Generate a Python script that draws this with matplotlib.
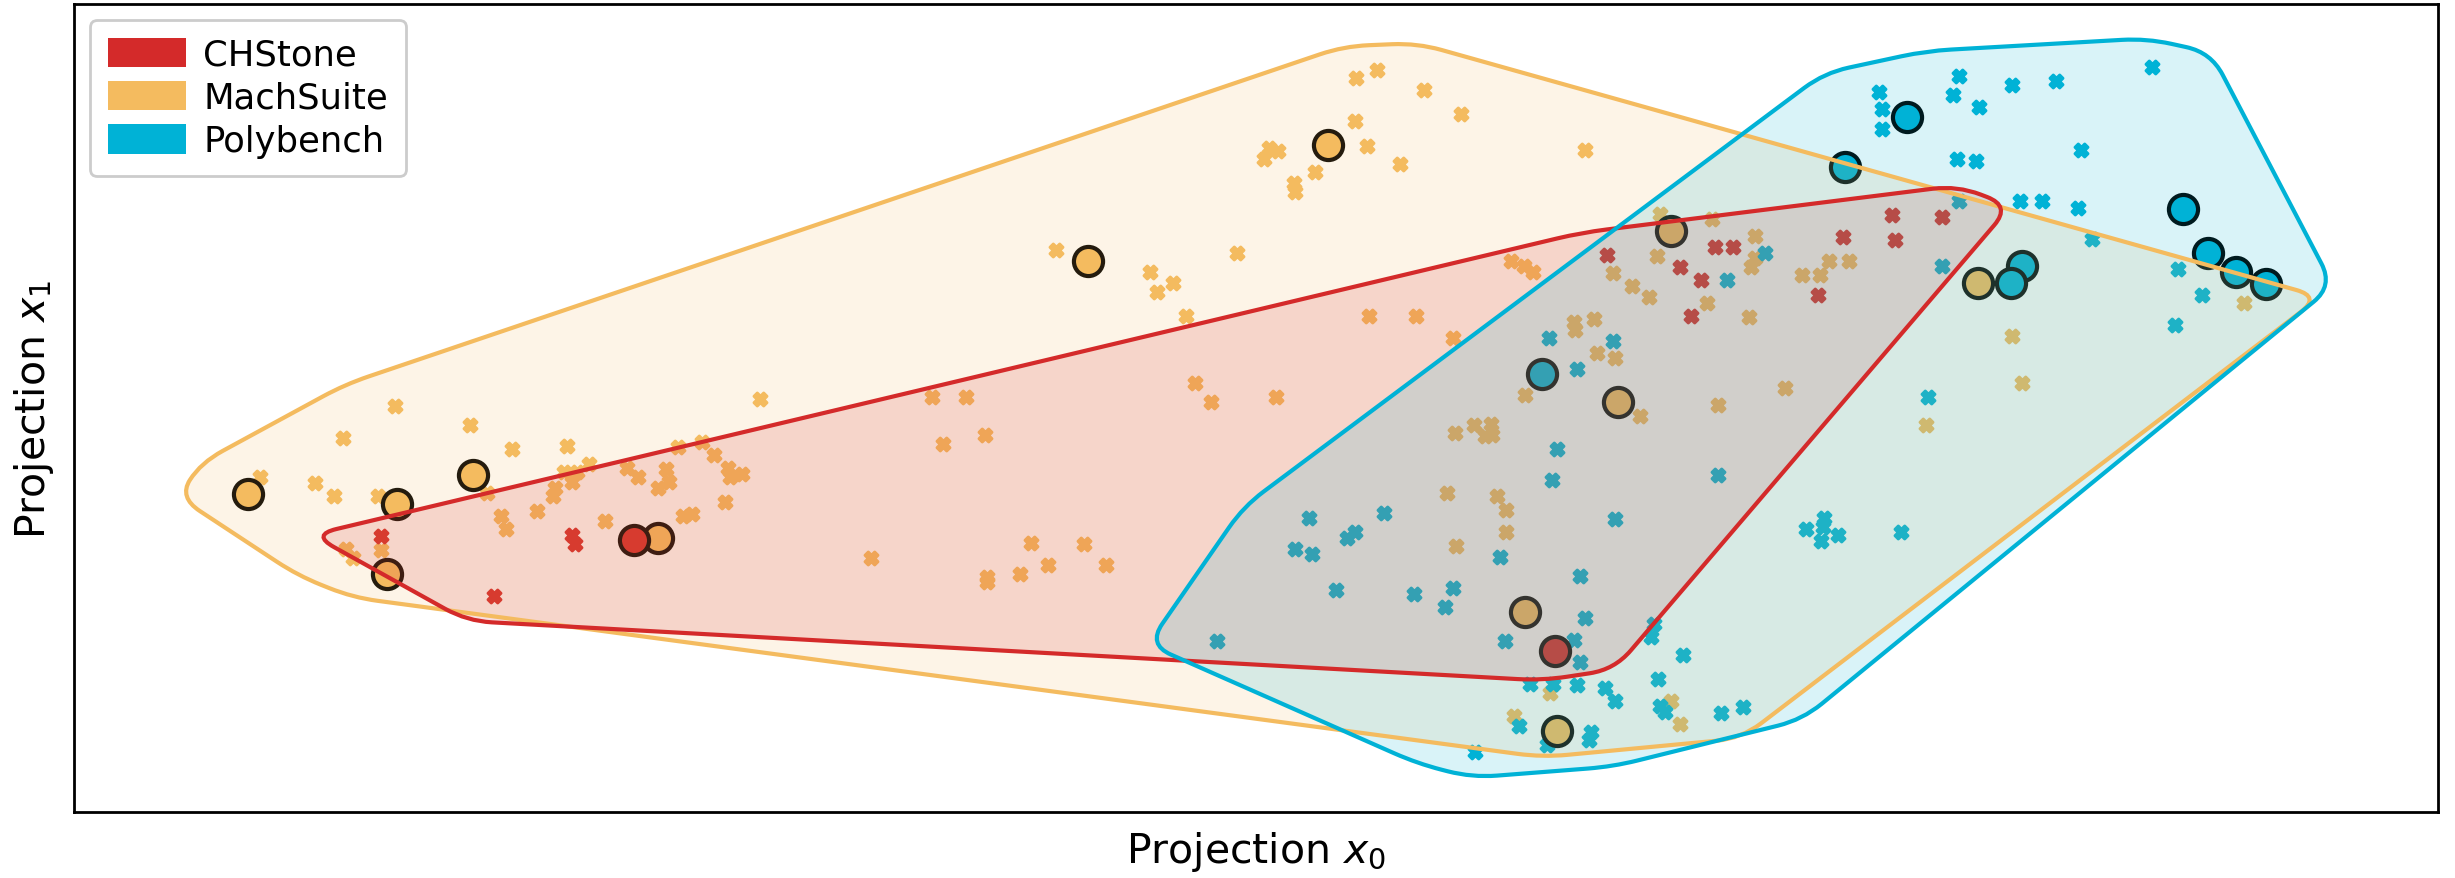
import numpy as np
import matplotlib
matplotlib.use("Agg")
import matplotlib.pyplot as plt
from matplotlib.path import Path
from matplotlib.patches import PathPatch, Patch


# colours per benchmark suite
RED = "#D42A2A"
ORANGE = "#F4BB5F"
BLUE = "#00B2D6"

# projected points (x0, x1)
mach_x0 = [166, 201, 213, 219, 241, 252, 300, 311, 327, 343, 320, 323, 221, 225, 243,
           353, 354, 360, 362, 365, 368, 376, 386, 400, 407, 420, 425, 427, 433, 436,
           442, 448, 456, 463, 465, 466, 474, 485, 595, 617, 602, 629, 556, 630, 630,
           651, 658, 669, 692, 706, 674, 734, 749, 739, 757, 790, 763, 773, 815, 807,
           810, 816, 826, 827, 840, 865, 866, 873, 879, 894, 909, 933, 1012, 874, 904,
           928, 929, 941, 952, 948, 953, 965, 973, 979, 974, 924, 956, 962, 962, 930,
           1005, 1006, 1018, 1020, 1031, 1030, 1042, 1053, 1058, 1060, 1093, 1090, 1117,
           1121, 1121, 1118, 1047, 1097, 1140, 1151, 1168, 1162, 1181, 1285, 1291, 1230,
           1433, 990, 967, 1067, 1073]
mach_x1 = [305, 309, 317, 280, 317, 260, 272, 315, 287, 327, 330, 338, 351, 357, 352,
           317, 312, 302, 285, 308, 302, 297, 333, 299, 305, 312, 300, 308, 286, 330,
           329, 283, 291, 321, 299, 305, 303, 255, 254, 254, 284, 278, 357, 369, 372,
           367, 347, 361, 348, 361, 160, 174, 181, 187, 202, 162, 245, 257, 254, 102,
           95, 97, 117, 123, 110, 78, 50, 94, 45, 105, 58, 73, 96, 202, 202,
           216, 277, 272, 271, 279, 278, 167, 170, 174, 253, 315, 317, 326, 340, 349,
           206, 211, 204, 226, 229, 175, 183, 190, 164, 137, 140, 194, 203,
           151, 165, 171, 266, 259, 248, 176, 167, 176, 167, 215, 245, 272,
           194, 443, 458, 448, 463]
mach_hl_x0 = [158, 253, 247, 302, 420, 695, 848, 1067, 1033, 974, 994, 1263]
mach_hl_x1 = [316, 322, 367, 304, 344, 167, 93, 148, 257, 391, 467, 181]

chs_x0 = [243, 365, 367, 315, 1026, 1095, 1107, 1073, 1086, 1080, 1177, 1208, 1240, 1210, 1161]
chs_x1 = [343, 342, 348, 381, 163, 158, 158, 171, 179, 202, 152, 138, 139, 154, 189]
chs_hl_x0 = [405, 993]
chs_hl_x1 = [345, 416]

poly_x0 = [777, 836, 884, 865, 860, 827, 838, 853, 903, 928, 923, 958, 994, 991, 1097,
           1031, 1009, 1012, 1056, 1054, 1005, 961, 1009, 1075, 977, 992, 1007, 1025,
           1031, 1059, 1060, 1063, 1099, 1113, 970, 1016, 1015, 988, 942, 1153, 1165,
           1164, 1163, 1174, 1214, 1231, 989, 1030, 1007, 1127, 1103, 1251, 1200, 1247,
           1285, 1313, 1374, 1202, 1264, 1202, 1329, 1250, 1262, 1251, 1290, 1304, 1327,
           1336, 1240, 1391, 1406, 1389]
poly_x1 = [410, 331, 328, 340, 344, 351, 354, 377, 380, 376, 388, 356, 287, 307, 304,
           332, 368, 395, 399, 407, 409, 410, 423, 419, 437, 437, 438, 440,
           448, 434, 451, 455, 456, 452, 464, 468, 473, 476, 481, 338, 331,
           337, 346, 342, 340, 254, 216, 218, 236, 162, 179, 49, 59, 61,
           55, 52, 43, 70, 69, 83, 96, 102, 103, 129, 129, 129, 133,
           153, 170, 172, 189, 208]
poly_hl_x0 = [1218, 1178, 985, 1394, 1410, 1428, 1447, 1291, 1284]
poly_hl_x1 = [75, 107, 239, 134, 162, 174, 182, 170, 181]

# hull outlines (corners get rounded when drawn)
mach_hull_x0 = [114, 128, 220, 858, 905, 1482, 1112, 985, 225, 190]
mach_hull_x1 = [318, 296, 246, 30, 28, 190, 472, 484, 382, 368]
chs_hull_x0 = [199, 1010, 1250, 1284, 1031, 985, 298]
chs_hull_x1 = [342, 149, 119, 132, 428, 435, 397]
poly_hull_x0 = [733, 794, 1165, 1230, 1371, 1412, 1490, 1151, 1030, 940, 905]
poly_hull_x1 = [412, 324, 47, 33, 25, 34, 183, 460, 490, 497, 488]


def rounded_hull(xs, ys, r):
    pts = np.column_stack([xs, ys]).astype(float)
    n = len(pts)
    verts = []
    codes = []
    for i in range(n):
        p = pts[i]
        a = pts[i - 1]
        b = pts[(i + 1) % n]
        da = a - p
        db = b - p
        la = np.hypot(*da)
        lb = np.hypot(*db)
        p_in = p + da / la * min(r, la / 2)
        p_out = p + db / lb * min(r, lb / 2)
        verts.append(p_in)
        codes.append(Path.MOVETO if i == 0 else Path.LINETO)
        verts += [p, p_out]
        codes += [Path.CURVE3, Path.CURVE3]
    verts.append(verts[0])
    codes.append(Path.CLOSEPOLY)
    return Path(verts, codes)


fig = plt.figure(figsize=(24.55, 8.79), dpi=100)
ax = fig.add_axes([74 / 2455, 66 / 879, (2438 - 74) / 2455, (874 - 66) / 879])

groups = [
    ("MachSuite", ORANGE, mach_x0, mach_x1, mach_hl_x0, mach_hl_x1, mach_hull_x0, mach_hull_x1),
    ("CHStone", RED, chs_x0, chs_x1, chs_hl_x0, chs_hl_x1, chs_hull_x0, chs_hull_x1),
    ("Polybench", BLUE, poly_x0, poly_x1, poly_hl_x0, poly_hl_x1, poly_hull_x0, poly_hull_x1),
]

for name, col, x0, x1, hx0, hx1, gx0, gx1 in groups:
    ax.scatter(x0, x1, marker="X", s=85, color=col, edgecolors=col,
               linewidths=2.2, zorder=1)

for name, col, x0, x1, hx0, hx1, gx0, gx1 in groups:
    ax.scatter(hx0, hx1, marker="o", s=440, color=col, edgecolors="black",
               linewidths=3.0, zorder=2)

for name, col, x0, x1, hx0, hx1, gx0, gx1 in groups:
    path = rounded_hull(gx0, gx1, 16)
    ax.add_patch(PathPatch(path, facecolor=col, alpha=0.15, edgecolor="none", zorder=3))
    ax.add_patch(PathPatch(path, facecolor="none", edgecolor=col, lw=3.0, zorder=4))

ax.set_xlim(47, 1557)
ax.set_ylim(519, 3)

ax.set_xticks([])
ax.set_yticks([])
for sp in ax.spines.values():
    sp.set_linewidth(2.0)

ax.set_xlabel("Projection $x_0$", fontsize=29.5, labelpad=12)
ax.set_ylabel("Projection $x_1$", fontsize=29.5, labelpad=13)

handles = [Patch(facecolor=RED, label="CHStone"),
           Patch(facecolor=ORANGE, label="MachSuite"),
           Patch(facecolor=BLUE, label="Polybench")]
leg = ax.legend(handles=handles, loc="upper left", fontsize=25.5, handlelength=2.2,
                handleheight=0.9, labelspacing=0.26, handletextpad=0.5, borderpad=0.5,
                borderaxespad=0.45, framealpha=1, fancybox=True)
leg.get_frame().set_edgecolor("#cccccc")
leg.get_frame().set_linewidth(2)

fig.savefig("out.png", dpi=100)
